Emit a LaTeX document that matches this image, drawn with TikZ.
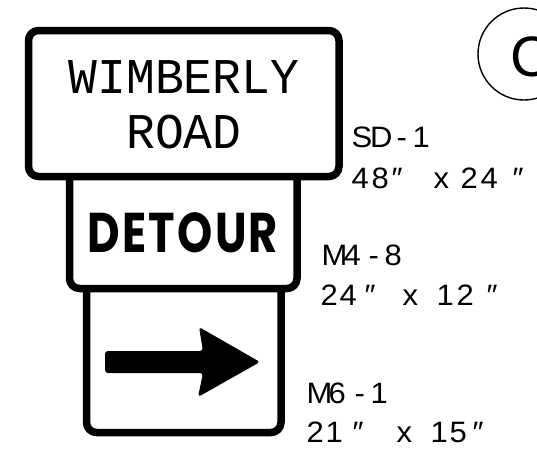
\documentclass[tikz,border=0pt]{standalone}
\usepackage{fontspec}
\setmainfont{Liberation Sans}
\newfontfamily\monofont[FakeStretch=0.96]{Liberation Mono}
\newfontfamily\detfont[FakeStretch=0.8,LetterSpace=4]{Poppins}
\newfontfamily\labfont[FakeStretch=1.05]{Liberation Sans}
\newcommand\gl[2]{\makebox[0pt][l]{\hspace*{#1pt}#2}}
\begin{document}
\begin{tikzpicture}[x=1pt,y=-1pt,
  signline/.style={line width=7.5pt, line join=round, rounded corners=10pt},
  signtext/.style={font=\monofont\fontsize{50}{50}\selectfont, anchor=base, inner sep=0pt},
  dettext/.style={font=\detfont\bfseries\fontsize{56}{56}\selectfont, anchor=base, inner sep=0pt},
  labtext/.style={font=\labfont\fontsize{29.5}{29.5}\selectfont, anchor=base west, inner sep=0pt}]
\useasboundingbox (0,0) rectangle (537,448);
% sign 1
\draw[signline] (28.5,30.5) rectangle (339,176.5);
% sign 2
\draw[signline] (69.5,176.5) -- (69.5,288.5) -- (297,288.5) -- (297,176.5);
% sign 3
\draw[signline] (86.5,288.5) -- (86.5,432.5) -- (281,432.5) -- (281,288.5);
% texts
\node[signtext] (w) at (184,93) {WIMBERLY};
\node[signtext] (r) at (184,148) {ROAD};
\node[dettext] (d) at (183,252) {DETOUR};
% arrow
\fill[rounded corners=3pt] (105,351) -- (203,351) -- (199,327) -- (260,362) -- (198,397) -- (203,373) -- (105,373) -- cycle;
% labels
\node[labtext] (l1) at (351,147) {\gl{0}{S}\gl{18.5}{D}\gl{45}{-}\gl{61}{1}};
\node[labtext] (l1b) at (351,188) {\gl{0}{4}\gl{20}{8}\gl{40}{″}\gl{82}{x}\gl{109}{2}\gl{129}{4}\gl{161}{″}};
\node[labtext] (l2) at (321,265) {\gl{0}{M}\gl{22}{4}\gl{47}{-}\gl{63}{8}};
\node[labtext] (l2b) at (320,305) {\gl{0}{2}\gl{19}{4}\gl{44}{″}\gl{82}{x}\gl{116}{1}\gl{136}{2}\gl{166}{″}};
\node[labtext] (l3) at (306,403) {\gl{0}{M}\gl{22}{6}\gl{48}{-}\gl{64}{1}};
\node[labtext] (l3b) at (306,442) {\gl{0}{2}\gl{19}{1}\gl{46}{″}\gl{90}{x}\gl{124}{1}\gl{143}{5}\gl{166}{″}};
% circle
\draw[line width=1.4pt] (524,54) circle (46);
\node[font=\fontsize{57}{57}\selectfont, anchor=base west, inner sep=0pt] (c) at (510,76) {C};
\end{tikzpicture}
\end{document}
